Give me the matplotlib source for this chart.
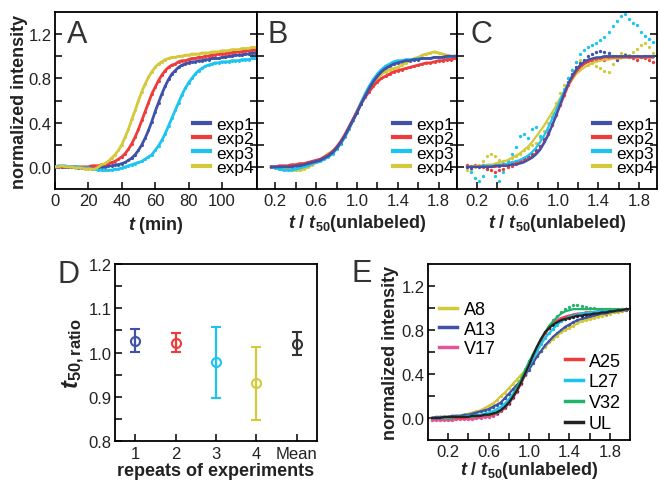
import numpy as np
import matplotlib
matplotlib.use("Agg")
import matplotlib.pyplot as plt
from matplotlib.ticker import FixedLocator, MultipleLocator
from matplotlib.lines import Line2D

plt.rcParams['font.family'] = ['Liberation Sans', 'DejaVu Sans']
plt.rcParams['mathtext.fontset'] = 'custom'
plt.rcParams['mathtext.rm'] = 'Liberation Sans'
plt.rcParams['mathtext.it'] = 'Liberation Sans:italic'
plt.rcParams['mathtext.bf'] = 'Liberation Sans:bold'
plt.rcParams['mathtext.bfit'] = 'Liberation Sans:italic:bold'

# ---------------- data ----------------
# Panel A: time (min)
A_t = np.arange(0, 121, 2)
A_exp1 = [0.00]*7 + [-0.01]*7 + [0.00, 0.00, 0.01, 0.01, 0.02, 0.02, 0.03,
          0.04, 0.06, 0.08, 0.11, 0.15, 0.20, 0.26, 0.33, 0.41, 0.50, 0.58, 0.66, 0.73, 0.79, 0.84, 0.87, 0.90, 0.92, 0.93, 0.94,
          0.95, 0.95, 0.96, 0.96, 0.97, 0.97, 0.98, 0.98, 0.98, 0.99, 0.99, 1.00, 1.00, 1.01, 1.01, 1.01, 1.02, 1.02, 1.03, 1.03]
A_exp2 = [0.00]*11 + [0.01, 0.01, 0.01, 0.02,
          0.02, 0.03, 0.04, 0.05, 0.07, 0.09, 0.12, 0.16, 0.21, 0.27, 0.34, 0.42, 0.50, 0.58, 0.66, 0.72, 0.78, 0.83, 0.87, 0.90, 0.92,
          0.93, 0.95, 0.96, 0.96, 0.97, 0.98, 0.98, 0.99, 0.99, 1.00, 1.00, 1.01, 1.01, 1.02, 1.02, 1.02, 1.03, 1.03, 1.04, 1.04, 1.04, 1.05, 1.05, 1.06, 1.06]
A_exp3 = [0.00, 0.01, 0.01, 0.01, 0.00, 0.00, 0.00, 0.00, -0.01, -0.01, -0.01,
          -0.02, -0.02, -0.03, -0.03, -0.03, -0.03, -0.03, -0.02, -0.02, -0.01,
          0.00, 0.01, 0.02, 0.03, 0.04, 0.05, 0.07, 0.09, 0.11, 0.15, 0.19, 0.24, 0.30, 0.37, 0.44, 0.51, 0.58, 0.65, 0.71, 0.76,
          0.80, 0.84, 0.87, 0.89, 0.91, 0.92, 0.93, 0.94, 0.94, 0.95, 0.95, 0.95, 0.96, 0.96, 0.96, 0.97, 0.97, 0.97, 0.98, 0.98]
A_exp4 = [0.00, 0.00, 0.01, 0.00, 0.00, 0.00, -0.01, -0.01, -0.01, -0.02, -0.02, -0.02, -0.02, 0.00,
          0.02, 0.03, 0.05, 0.08, 0.11, 0.15, 0.20, 0.27, 0.34, 0.43, 0.51, 0.60, 0.68, 0.75, 0.81, 0.86, 0.90, 0.93, 0.95, 0.97, 0.98, 0.99,
          0.99, 1.00, 1.00, 1.01, 1.01, 1.02, 1.02, 1.02, 1.03, 1.03, 1.03, 1.04, 1.04, 1.04, 1.05, 1.05, 1.05, 1.06, 1.06, 1.06, 1.07, 1.07, 1.07, 1.08, 1.08]

# Panel B: t / t50
B_x = np.arange(0.16, 1.97, 0.04)
B_exp1 = [0.00, 0.00, 0.00, 0.00, 0.00, 0.00, 0.01, 0.01, 0.02, 0.03, 0.04, 0.05, 0.06, 0.08, 0.10, 0.13, 0.17, 0.22, 0.28, 0.35,
          0.42, 0.49, 0.57, 0.64, 0.71, 0.77, 0.82, 0.86, 0.89, 0.91, 0.93, 0.94, 0.95, 0.96, 0.96, 0.97, 0.97, 0.98, 0.98, 0.98,
          0.99, 0.99, 0.99, 1.00, 1.00, 1.00]
B_exp2 = [0.00, 0.00, 0.01, 0.01, 0.01, 0.02, 0.02, 0.03, 0.03, 0.04, 0.05, 0.06, 0.07, 0.09, 0.11, 0.14, 0.18, 0.23, 0.29, 0.36,
          0.43, 0.50, 0.57, 0.63, 0.68, 0.73, 0.77, 0.80, 0.82, 0.84, 0.86, 0.87, 0.88, 0.89, 0.90, 0.91, 0.92, 0.93, 0.94, 0.94,
          0.95, 0.96, 0.96, 0.97, 0.97, 0.98]
B_exp3 = [0.00, -0.01, -0.02, -0.03, -0.03, -0.03, -0.02, -0.01, 0.00, 0.01, 0.03, 0.04, 0.05, 0.07, 0.09, 0.12, 0.16, 0.21, 0.27, 0.34,
          0.42, 0.50, 0.58, 0.66, 0.73, 0.79, 0.84, 0.88, 0.91, 0.93, 0.95, 0.96, 0.96, 0.97, 0.97, 0.97, 0.98, 0.98, 0.98, 0.98,
          0.99, 0.99, 0.99, 0.99, 0.99, 1.00]
B_exp4 = [0.00, 0.00, -0.01, -0.02, -0.02, -0.03, -0.03, -0.03, -0.02, 0.00, 0.02, 0.04, 0.06, 0.09, 0.12, 0.14, 0.17, 0.21, 0.27, 0.34,
          0.42, 0.50, 0.58, 0.65, 0.71, 0.76, 0.80, 0.84, 0.86, 0.88, 0.89, 0.90, 0.92, 0.94, 0.96, 0.98, 0.99, 1.01, 1.02, 1.03,
          1.04, 1.03, 1.02, 1.01, 1.00, 1.00]

# Panel C: t / t50 (dots = data, fit = fitted curve)
C_x = np.arange(0.10, 1.95, 0.04)
C_exp1_dots = [0.00, -0.01, 0.01, 0.00, 0.02, 0.00, 0.01, 0.02, 0.01, 0.03, 0.02, 0.04, 0.05, 0.06, 0.08, 0.10, 0.12, 0.15, 0.19, 0.25,
               0.31, 0.39, 0.48, 0.57, 0.68, 0.77, 0.84, 0.90, 0.94, 0.97, 1.00, 1.02, 1.04, 1.05, 1.04, 1.03, 1.00, 0.97, 0.99, 1.01,
               1.00, 0.99, 1.00, 0.99, 1.00, 1.00, 1.00]
C_exp1_fit = [0.00, 0.00, 0.00, 0.00, 0.00, 0.00, 0.00, 0.01, 0.01, 0.01, 0.01, 0.02, 0.02, 0.03, 0.04, 0.06, 0.08, 0.11, 0.15, 0.21,
              0.28, 0.37, 0.46, 0.56, 0.66, 0.75, 0.82, 0.88, 0.92, 0.95, 0.97, 0.98, 0.99, 0.99, 1.00, 1.00, 1.00, 1.00, 1.00, 1.00,
              1.00, 1.00, 1.00, 1.00, 1.00, 1.00, 1.00]
C_exp2_dots = [0.02, 0.01, 0.02, 0.01, 0.00, -0.02, -0.03, -0.05, -0.03, -0.02, 0.00, 0.01, 0.03, 0.04, 0.06, 0.08, 0.10, 0.14, 0.18, 0.23,
               0.30, 0.38, 0.47, 0.56, 0.65, 0.74, 0.82, 0.88, 0.92, 0.95, 0.96, 0.96, 0.97, 0.98, 0.97, 0.98, 0.99, 0.98, 0.99, 1.00,
               0.99, 0.98, 0.97, 0.99, 0.98, 0.97, 0.95]
C_exp2_fit = [0.00, 0.00, 0.00, 0.00, 0.00, 0.00, 0.00, 0.00, 0.01, 0.01, 0.01, 0.02, 0.03, 0.04, 0.05, 0.07, 0.09, 0.12, 0.16, 0.22,
              0.29, 0.37, 0.46, 0.55, 0.64, 0.73, 0.80, 0.86, 0.90, 0.93, 0.95, 0.97, 0.98, 0.98, 0.99, 0.99, 0.99, 0.99, 0.99, 0.99,
              0.99, 0.99, 0.99, 0.99, 0.99, 0.99, 0.99]
C_exp3_dots = [0.00, -0.05, -0.10, -0.13, -0.08, -0.02, 0.02, -0.08, -0.13, -0.05, 0.05, 0.12, 0.18, 0.28, 0.30, 0.26, 0.34, 0.36, 0.28, 0.25,
               0.33, 0.45, 0.52, 0.60, 0.70, 0.80, 0.88, 0.95, 1.02, 1.06, 1.08, 1.10, 1.12, 1.15, 1.17, 1.22, 1.27, 1.32, 1.36, 1.38,
               1.34, 1.30, 1.28, 1.22, 1.18, 1.16, 1.13]
C_exp3_fit = [0.00, 0.00, 0.00, 0.00, 0.01, 0.01, 0.01, 0.01, 0.02, 0.02, 0.03, 0.04, 0.05, 0.06, 0.08, 0.10, 0.13, 0.17, 0.22, 0.28,
              0.35, 0.43, 0.51, 0.60, 0.68, 0.75, 0.82, 0.87, 0.91, 0.94, 0.96, 0.97, 0.98, 0.99, 1.00, 1.00, 1.00, 1.00, 1.00, 1.00,
              1.00, 1.00, 1.00, 1.00, 1.00, 1.00, 1.00]
C_exp4_dots = [-0.03, -0.02, 0.00, 0.02, 0.05, 0.10, 0.12, 0.10, 0.06, 0.05, 0.06, 0.08, 0.10, 0.12, 0.15, 0.17, 0.20, 0.22, 0.26, 0.32,
               0.40, 0.49, 0.58, 0.67, 0.74, 0.80, 0.88, 0.95, 0.97, 0.94, 0.92, 0.94, 0.91, 0.89, 0.87, 0.86, 0.93, 1.00, 1.03, 1.02,
               1.01, 1.04, 1.07, 1.10, 1.12, 1.08, 1.03]
C_exp4_fit = [0.00, 0.00, 0.01, 0.01, 0.01, 0.02, 0.02, 0.03, 0.04, 0.05, 0.06, 0.08, 0.10, 0.12, 0.15, 0.18, 0.22, 0.27, 0.32, 0.37,
              0.43, 0.49, 0.55, 0.62, 0.68, 0.74, 0.79, 0.84, 0.87, 0.90, 0.92, 0.94, 0.95, 0.96, 0.97, 0.97, 0.98, 0.98, 0.98, 0.99,
              0.99, 0.99, 0.99, 0.99, 0.99, 0.99, 0.99]

# Panel D
D_labels = ['1', '2', '3', '4', 'Mean']
D_values = [1.027, 1.022, 0.978, 0.930, 1.020]
D_errors = [0.025, 0.021, 0.080, 0.082, 0.026]

# Panel E
E_x = np.arange(0.04, 2.01, 0.04)
E_A8 = [0.00, 0.00, 0.01, 0.01, 0.01, 0.01, 0.02, 0.02, 0.03, 0.04, 0.05, 0.06, 0.07, 0.09, 0.11, 0.13, 0.16, 0.20, 0.23, 0.27,
        0.31, 0.35, 0.39, 0.43, 0.47, 0.52, 0.57, 0.61, 0.65, 0.69, 0.72, 0.75, 0.78, 0.80, 0.82, 0.84, 0.86, 0.88, 0.89, 0.90,
        0.91, 0.92, 0.93, 0.94, 0.95, 0.96, 0.96, 0.97, 0.98, 0.99]
E_A13 = [0.00, 0.01, 0.01, 0.01, 0.01, 0.02, 0.02, 0.02, 0.03, 0.03, 0.04, 0.05, 0.06, 0.07, 0.08, 0.10, 0.12, 0.14, 0.18, 0.22,
         0.26, 0.30, 0.34, 0.39, 0.44, 0.50, 0.56, 0.61, 0.66, 0.70, 0.74, 0.77, 0.80, 0.83, 0.85, 0.87, 0.89, 0.90, 0.91, 0.92,
         0.93, 0.94, 0.95, 0.95, 0.96, 0.97, 0.97, 0.98, 0.98, 0.99]
E_V17 = [-0.02, -0.02, -0.02, -0.02, -0.02, -0.02, -0.01, -0.01, -0.01, -0.01, -0.01, 0.00, 0.00, 0.01, 0.01, 0.02, 0.04, 0.06, 0.09, 0.13,
         0.18, 0.24, 0.31, 0.39, 0.47, 0.56, 0.64, 0.71, 0.77, 0.82, 0.86, 0.89, 0.91, 0.92, 0.93, 0.94, 0.95, 0.95, 0.96, 0.96,
         0.96, 0.97, 0.97, 0.97, 0.98, 0.98, 0.98, 0.99, 0.99, 0.99]
E_A25 = [0.00, 0.00, 0.00, 0.00, 0.00, 0.00, 0.00, 0.00, 0.00, 0.01, 0.01, 0.01, 0.02, 0.02, 0.03, 0.03, 0.05, 0.07, 0.10, 0.14,
         0.19, 0.25, 0.32, 0.40, 0.48, 0.56, 0.64, 0.71, 0.77, 0.82, 0.86, 0.88, 0.90, 0.92, 0.93, 0.94, 0.94, 0.95, 0.95, 0.96,
         0.96, 0.96, 0.97, 0.97, 0.97, 0.98, 0.98, 0.98, 0.99, 0.99]
E_L27 = [0.00, 0.00, 0.00, 0.00, 0.00, 0.01, 0.01, 0.01, 0.01, 0.02, 0.02, 0.03, 0.03, 0.04, 0.05, 0.06, 0.08, 0.10, 0.13, 0.17,
         0.22, 0.27, 0.33, 0.40, 0.47, 0.54, 0.61, 0.67, 0.73, 0.77, 0.81, 0.85, 0.88, 0.90, 0.92, 0.93, 0.94, 0.95, 0.95, 0.96,
         0.96, 0.97, 0.97, 0.97, 0.98, 0.98, 0.98, 0.99, 0.99, 0.99]
E_V32_dots = [0.00, 0.00, 0.00, 0.00, 0.00, 0.00, 0.01, 0.01, 0.01, 0.01, 0.01, 0.02, 0.02, 0.03, 0.03, 0.04, 0.05, 0.07, 0.10, 0.15,
              0.22, 0.30, 0.38, 0.45, 0.52, 0.58, 0.65, 0.72, 0.78, 0.84, 0.89, 0.93, 0.96, 0.99, 1.01, 1.03, 1.03, 1.02, 1.01, 1.00,
              1.00, 0.99, 0.99, 0.99, 0.99, 0.99, 0.99, 0.99, 0.99, 0.99]
E_V32_fit = [0.00, 0.00, 0.00, 0.00, 0.00, 0.00, 0.01, 0.01, 0.01, 0.01, 0.01, 0.02, 0.02, 0.03, 0.03, 0.04, 0.05, 0.07, 0.10, 0.14,
             0.20, 0.27, 0.35, 0.43, 0.51, 0.58, 0.65, 0.72, 0.78, 0.84, 0.88, 0.92, 0.95, 0.97, 0.98, 0.99, 0.99, 0.99, 0.99, 0.99,
             0.99, 0.99, 0.99, 0.99, 0.99, 0.99, 0.99, 0.99, 0.99, 0.99]
E_UL = [0.00, 0.00, 0.00, 0.01, 0.01, 0.01, 0.01, 0.01, 0.01, 0.01, 0.02, 0.02, 0.02, 0.03, 0.03, 0.04, 0.05, 0.07, 0.10, 0.14,
        0.19, 0.25, 0.32, 0.40, 0.48, 0.57, 0.65, 0.72, 0.78, 0.82, 0.85, 0.87, 0.89, 0.90, 0.91, 0.92, 0.93, 0.93, 0.94, 0.94,
        0.95, 0.95, 0.96, 0.96, 0.97, 0.97, 0.98, 0.98, 0.99, 0.99]

exp_names = ['exp1', 'exp2', 'exp3', 'exp4']
E_names_1 = ['A8', 'A13', 'V17']
E_names_2 = ['A25', 'L27', 'V32', 'UL']

# ---------------- style ----------------
BLUE = '#3F51A8'
RED = '#EE3B3B'
CYAN = '#1CC4F0'
YEL = '#D3C93A'
PINK = '#E2559B'
GREEN = '#22B36B'
BLACK = '#222222'
exp_colors = [BLUE, RED, CYAN, YEL]
TXT = '#222222'

W, H = 659, 481
fig = plt.figure(figsize=(W / 100, H / 100), dpi=100)


def box(l, r, t, b):
    return [l / W, 1 - b / H, (r - l) / W, (b - t) / H]


axA = fig.add_axes(box(55, 257, 13, 190))
axB = fig.add_axes(box(257, 457, 13, 190))
axC = fig.add_axes(box(457, 657, 13, 190))
axD = fig.add_axes(box(115, 317, 265, 442))
axE = fig.add_axes(box(428, 630, 265, 441))

TL = 5
TW = 1.1
for ax in (axA, axB, axC, axD, axE):
    for s in ax.spines.values():
        s.set_linewidth(1.3)
        s.set_color('black')
    ax.tick_params(which='both', labelsize=12, length=TL, width=TW, colors='black', labelcolor=TXT)
    ax.tick_params(axis='y', which='both', pad=2.5)

# y settings for intensity panels
for ax in (axA, axB, axC, axE):
    ax.set_ylim(-0.2, 1.4)
    ax.yaxis.set_major_locator(FixedLocator([0.0, 0.4, 0.8, 1.2]))
    ax.yaxis.set_minor_locator(FixedLocator([0.2, 0.6, 1.0]))
    ax.yaxis.set_major_formatter(plt.FuncFormatter(lambda v, p: f'{v:.1f}'))

for ax in (axB, axC, axE):
    ax.xaxis.set_major_locator(FixedLocator([0.2, 0.6, 1.0, 1.4, 1.8]))
    ax.xaxis.set_minor_locator(FixedLocator([0.4, 0.8, 1.2, 1.6]))
    ax.xaxis.set_major_formatter(plt.FuncFormatter(lambda v, p: f'{v:.1f}'))
    ax.tick_params(axis='x', which='both', direction='in', top=False, pad=3)

# Panel A
axA.set_xlim(0, 121)
axA.xaxis.set_major_locator(FixedLocator([0, 20, 40, 60, 80, 100]))
axA.tick_params(axis='x', which='both', direction='in', top=False, pad=3)
axA.tick_params(axis='y', which='both', direction='in', left=True, right=True, labelright=False)

A_series = [A_exp1, A_exp2, A_exp3, A_exp4]
for ys, c in zip(A_series[::-1], exp_colors[::-1]):
    axA.plot(A_t, ys, 'o', ms=2.2, color=c, mec='none', zorder=2)
for ys, c, n in zip(A_series, exp_colors, exp_names):
    axA.plot(A_t, ys, '-', lw=2.0, color=c, label=n, zorder=3)

lab_bold = dict(fontsize=13, fontweight='bold', color=TXT)
axA.set_ylabel('normalized intensity', labelpad=0.5, **lab_bold)
axA.set_xlabel(r'$\mathbfit{t}$ (min)', labelpad=4, **lab_bold)

# Panel B
axB.set_xlim(0.02, 1.98)
axB.tick_params(axis='y', which='both', direction='in', left=True, right=True, labelleft=False)
B_series = [B_exp1, B_exp2, B_exp3, B_exp4]
for ys, c in zip(B_series[::-1], exp_colors[::-1]):
    axB.plot(B_x, ys, 'o', ms=2.2, color=c, mec='none', zorder=2)
for ys, c, n in zip(B_series[::-1], exp_colors[::-1], exp_names[::-1]):
    axB.plot(B_x, ys, '-', lw=2.0, color=c, label=n, zorder=3)
xl50 = r'$\mathbfit{t}$ / $\mathbfit{t}_{\mathbf{50}}$(unlabeled)'
axB.set_xlabel(xl50, labelpad=3, **lab_bold)

# Panel C
axC.set_xlim(0.0, 1.98)
axC.tick_params(axis='y', which='both', direction='in', left=True, right=True, labelleft=False)
C_dots = [C_exp1_dots, C_exp2_dots, C_exp3_dots, C_exp4_dots]
C_fits = [C_exp1_fit, C_exp2_fit, C_exp3_fit, C_exp4_fit]
for ys, c in zip(C_dots[::-1], exp_colors[::-1]):
    axC.plot(C_x, ys, 'o', ms=2.4, color=c, mec='none', zorder=2)
for ys, c, n in zip(C_fits[::-1], exp_colors[::-1], exp_names[::-1]):
    axC.plot(C_x, ys, '-', lw=1.6, color=c, label=n, zorder=3)
axC.set_xlabel(xl50, labelpad=3, **lab_bold)


def exp_legend(ax):
    handles = [Line2D([], [], color=c, lw=3) for c in exp_colors]
    ax.legend(handles, exp_names, loc='lower right', bbox_to_anchor=(0.985, 0.08),
              frameon=False, fontsize=12.5, handlelength=1.0, handletextpad=0.35,
              labelspacing=-0.05, borderpad=0.0, borderaxespad=0.0)


for ax in (axA, axB, axC):
    exp_legend(ax)

# panel letters
for ax, letter, xf in ((axA, 'A', 0.06), (axB, 'B', 0.055), (axC, 'C', 0.065)):
    ax.text(xf, 0.83, letter, transform=ax.transAxes, fontsize=22, color='#333333', va='baseline')

# Panel D
xd = np.arange(1, len(D_labels) + 1)
D_colors = [BLUE, RED, CYAN, YEL, '#333333']
for xi, v, e, c in zip(xd, D_values, D_errors, D_colors):
    axD.errorbar(xi, v, yerr=e, fmt='o', ms=6.5, mfc='none', mec=c, mew=1.5, color=c,
                 elinewidth=1.6, capsize=3.5, capthick=1.6)
axD.set_xlim(0.5, 5.5)
axD.set_ylim(0.8, 1.2)
axD.set_xticks(xd)
axD.set_xticklabels(D_labels)
axD.yaxis.set_major_locator(MultipleLocator(0.1))
axD.yaxis.set_minor_locator(MultipleLocator(0.05))
axD.yaxis.set_major_formatter(plt.FuncFormatter(lambda v, p: f'{v:.1f}'))
axD.tick_params(which='both', direction='in', top=False, right=False)
axD.tick_params(axis='x', which='minor', bottom=False)
axD.set_xlabel('repeats of experiments', labelpad=1, **lab_bold)
axD.set_ylabel(r'$\mathbfit{t}_{\mathbf{50,ratio}}$', fontsize=17, color=TXT, labelpad=1)
fig.text(57 / W, 1 - 283 / H, 'D', fontsize=22, color='#333333', va='baseline')

# Panel E
axE.set_xlim(0.0, 2.0)
axE.tick_params(axis='y', which='both', direction='in', right=False)
E_dots = [E_A8, E_A13, E_V17, E_A25, E_L27, E_V32_dots, E_UL]
E_fits = [E_A8, E_A13, E_V17, E_A25, E_L27, E_V32_fit, E_UL]
E_cols = [YEL, BLUE, PINK, RED, CYAN, GREEN, BLACK]
for ys, c in zip(E_dots, E_cols):
    axE.plot(E_x, ys, 'o', ms=2.4, color=c, mec='none', zorder=2)
for ys, c in zip(E_fits, E_cols):
    axE.plot(E_x, ys, '-', lw=1.6, color=c, zorder=3)
h1 = [Line2D([], [], color=c, lw=2.5) for c in E_cols[:3]]
h2 = [Line2D([], [], color=c, lw=2.5) for c in E_cols[3:]]
leg1 = axE.legend(h1, E_names_1, loc='upper left', bbox_to_anchor=(0.055, 0.79), frameon=False,
                  fontsize=13, handlelength=1.0, handletextpad=0.35, labelspacing=0.15,
                  borderpad=0.0, borderaxespad=0.0)
axE.add_artist(leg1)
axE.legend(h2, E_names_2, loc='lower right', bbox_to_anchor=(0.955, 0.043), frameon=False,
           fontsize=13, handlelength=1.0, handletextpad=0.35, labelspacing=0.22,
           borderpad=0.0, borderaxespad=0.0)
axE.set_ylabel('normalized intensity', labelpad=2, **lab_bold)
axE.set_xlabel(xl50, labelpad=0, **lab_bold)
fig.text(352 / W, 1 - 282 / H, 'E', fontsize=22, color='#333333', va='baseline')

fig.savefig('out.png', dpi=100)
